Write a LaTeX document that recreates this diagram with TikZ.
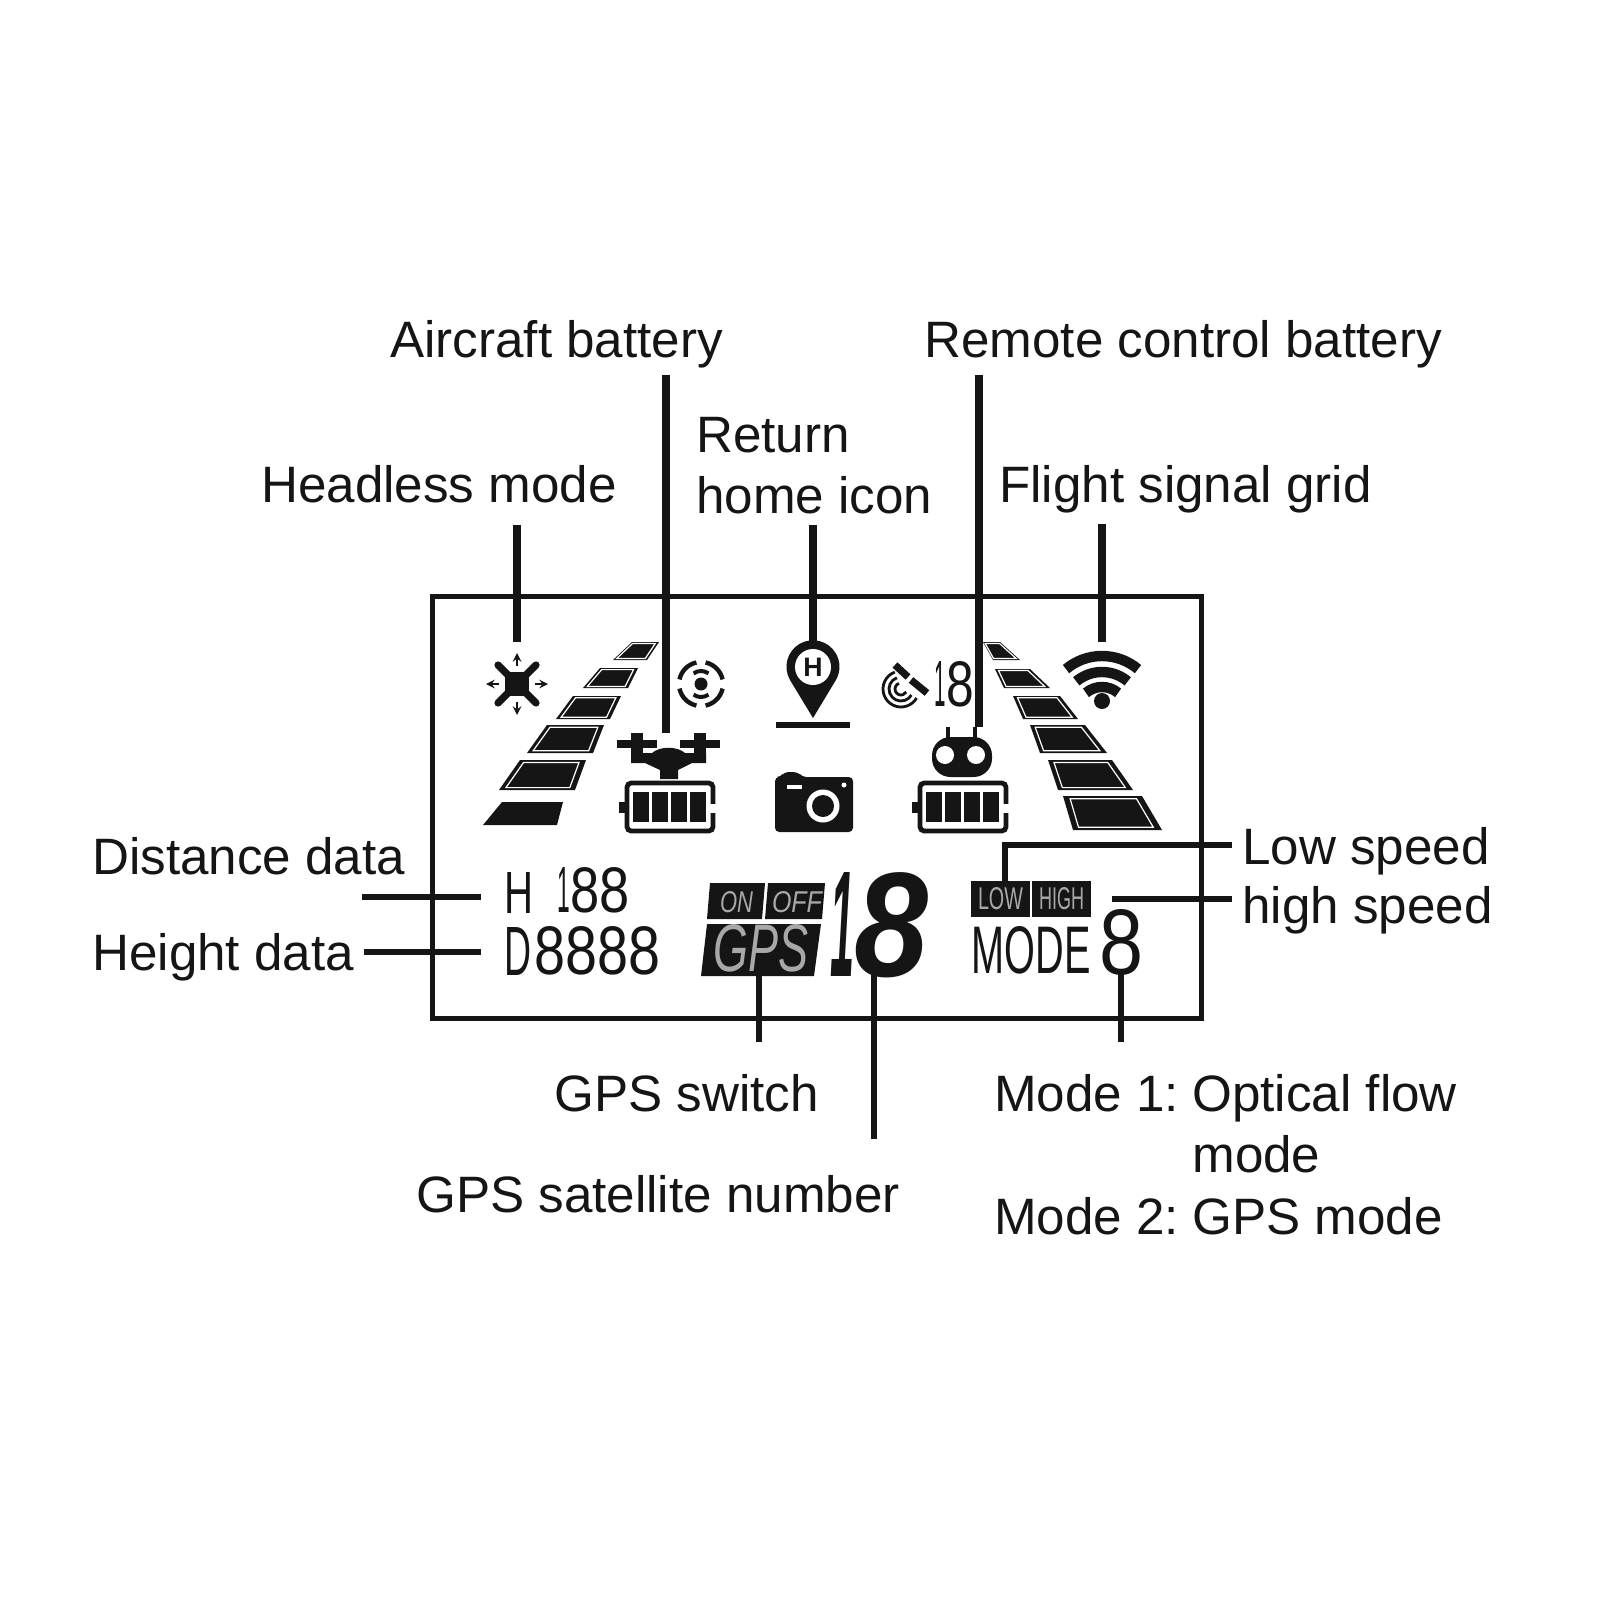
\documentclass[tikz,border=0pt]{standalone}
\usepackage{graphicx}
\usepackage{fontspec}
\setmainfont{Liberation Sans}
\usepackage{tikz}
\usetikzlibrary{calc}
\definecolor{ink}    {HTML}{151515}
\definecolor{lcdgrey}{HTML}{A8A8A8}
\newlength{\lcdunit}
\setlength{\lcdunit}{.25mm}
% one glyph of a readout: width, height, glyph
\newcommand{\lcdglyph}[3]{\resizebox{#1\lcdunit}{#2\lcdunit}{#3}}
% text squeezed into a box of the display: name, centre x, centre y, width, height, text
\newcommand{\lcdtext}[7][]{%
  \node[lcd,#1] (#2) at (#3,-#4) {\resizebox{#5\lcdunit}{#6\lcdunit}{#7}};}
\tikzset{
  % --- nodes
  lbl/.style    = {anchor=base west, inner sep=0pt, text=ink, align=left,
                   font=\fontsize{36.4}{43.4}\selectfont},
  lcd/.style    = {inner sep=0pt, text=ink},
  lcdinv/.style = {lcd, text=lcdgrey},
  % --- edges
  leader/.style = {draw=ink, line width=1.9mm, line cap=butt},
  thinl/.style  = {draw=ink, line width=1.3mm, line cap=butt, line join=miter},
  % --- icons
  glyph/.style  = {fill=ink, draw=none},
  cut/.style    = {draw=white, line width=.3mm},
}
\begin{document}
\begin{tikzpicture}[x=.25mm,y=.25mm]
  \useasboundingbox (0,0) rectangle (1601,-1601);
  % display frame
  \draw[draw=ink, line width=1.25mm] (432,-596) rectangle (1201,-1018);

  % labels
  \node[lbl] (lblair)   at (390,-357)  {Aircraft battery};
  \node[lbl] (lblrc)    at (924,-357)  {Remote control battery};
  \node[lbl] (lblreturn)at (696,-452)  {Return};
  \node[lbl] (lblhome)  at (696,-513)  {home icon};
  \node[lbl] (lblhead)  at (261,-502)  {Headless mode};
  \node[lbl] (lblgrid)  at (999,-502)  {Flight signal grid};
  \node[lbl] (lbldist)  at (92,-874)   {Distance data};
  \node[lbl] (lblheight)at (92,-970)   {Height data};
  \node[lbl] (lbllow)   at (1242,-864) {Low speed};
  \node[lbl] (lblhigh)  at (1242,-923) {high speed};
  \node[lbl] (lblswitch)at (554,-1111) {GPS switch};
  \node[lbl] (lblsat)   at (416,-1212) {GPS satellite number};
  \node[lbl] (lblmodea) at (994,-1111) {Mode 1:\hspace{9.4pt}Optical flow};
  \node[lbl] (lblmodeb) at (994,-1172) {\phantom{Mode 1:\hspace{9.4pt}}mode};
  \node[lbl] (lblmodec) at (994,-1234) {Mode 2:\hspace{9.4pt}GPS mode};

  % free ends of the leaders
  \coordinate (headend)  at (517,-642);
  \coordinate (airend)   at (666,-733);
  \coordinate (homeend)  at (813,-642);
  \coordinate (rcend)    at (979,-727);
  \coordinate (gridend)  at (1102,-642);
  \coordinate (diststart)at (362,-897);
  \coordinate (distend)  at (481,-897);
  \coordinate (heightend)at (481,-952);
  \coordinate (lowelbow) at (1005,-845);
  \coordinate (lowend)   at (1005,-881);
  \coordinate (highend)  at (1112,-899);
  \coordinate (switchend)at (759,-975);
  \coordinate (satend)   at (874,-975);
  \coordinate (modeend)  at (1121,-973);

  % headless mode
  \draw[ink, line width=1.8mm, line cap=round] (498,-665) -- (536,-703) (536,-665) -- (498,-703);
  \fill[glyph] (505,-672) rectangle (529,-696);
  \foreach \ax/\ay/\dx/\dy in {517/-660/0/1, 517/-708/0/-1, 493/-684/-1/0, 541/-684/1/0}
  {
    \draw[ink, line width=.6mm, -stealth] (\ax-\dx*6,\ay-\dy*6) -- (\ax+\dx*7,\ay+\dy*7);
  }

  % speed bars
  \fill[glyph] (483,-825) -- (557,-825) -- (563,-802) -- (502,-802) -- cycle;
  \foreach \ax/\ay/\bx/\by/\cx/\cy/\dx/\dy in {
    499/790/575/790/586/760/520/760,
    527/753/593/753/604/725/547/725,
    556/719/610/719/621/696/573/696,
    583/688/628/688/638/668/600/668,
    613/660/647/660/659/642/632/642,
    993/660/1020/660/1000/642/983/642,
    1004/688/1050/688/1030/669/995/669,
    1023/719/1078/719/1060/696/1013/696,
    1040/753/1107/753/1085/725/1030/725,
    1058/790/1133/790/1112/760/1048/760,
    1073/830/1162/830/1142/796/1063/796}
  {
    \fill[glyph] (\ax,-\ay) -- (\bx,-\by) -- (\cx,-\cy) -- (\dx,-\dy) -- cycle;
    \coordinate (mid) at ($(\ax,-\ay)!.5!(\cx,-\cy)$);
    \draw[cut] ($(mid)!.84!(\ax,-\ay)$) -- ($(mid)!.84!(\bx,-\by)$)
      -- ($(mid)!.84!(\cx,-\cy)$) -- ($(mid)!.84!(\dx,-\dy)$) -- cycle;
  }

  % gimbal ring
  \foreach \a in {45,135,225,315}
  {
    \draw[ink, line width=1.1mm] (701,-684) ++(\a-33:22) arc[start angle=\a-33, end angle=\a+33, radius=22];
  }
  \draw[ink, line width=1mm] (701,-684) ++(55:13) arc[start angle=55, end angle=125, radius=13];
  \draw[ink, line width=1mm] (701,-684) ++(235:13) arc[start angle=235, end angle=305, radius=13];
  \fill[glyph] (701,-684) circle (6.5);

  % aircraft
  \draw[ink, line width=2mm] (617,-744) -- (657,-744) (680,-744) -- (720,-744);
  \draw[ink, line width=3mm] (637,-733) -- (637,-763) (700,-733) -- (700,-763);
  \fill[glyph] (631,-753) -- (652,-753) .. controls (660,-746) and (677,-746) .. (685,-753)
    -- (706,-753) -- (706,-763) -- (692,-763) -- (678,-770) -- (678,-779) -- (660,-779)
    -- (660,-770) -- (645,-763) -- (631,-763) -- cycle;

  % batteries
  \foreach \off in {0,293}
  {
    \draw[ink, line width=1.2mm, rounded corners=3] (627+\off,-783) rectangle (713+\off,-831);
    \fill[glyph] (619+\off,-802) rectangle (627+\off,-813);
    \fill[white] (708+\off,-804) rectangle (716+\off,-813);
    \foreach \c in {0,1,2,3}
    {
      \fill[glyph] ({633+\off+\c*19},-792) rectangle ++(15.5,-30);
    }
  }

  % return home
  \fill[glyph] (813,-718) -- (790,-680) arc[start angle=210, end angle=-30, radius=26.5] -- cycle;
  \fill[white] (813,-667) circle (18);
  \node[lcd, font=\fontsize{19}{19}\selectfont\bfseries] (homeh) at (813,-667) {H};
  \draw[thinl] (776,-725) -- (850,-725);

  % camera
  \fill[glyph, rounded corners=3] (775,-832) -- (775,-777) -- (781,-777) -- (784,-772)
    -- (798,-772) -- (802,-777) -- (853,-777) -- (853,-832) -- cycle;
  \fill[white] (787,-785) rectangle (802,-789);
  \fill[white] (844,-785) circle (2.5);
  \fill[white] (823,-806) circle (16.5);
  \fill[glyph] (823,-806) circle (11);

  % satellite
  \draw[ink, line width=1.8mm] (895,-665) -- (908,-677) (911,-680) -- (927,-693);
  \foreach \r in {6,12,18}
  {
    \draw[ink, line width=.7mm] (901,-689) ++(110:\r) arc[start angle=110, end angle=330, radius=\r];
  }

  % remote control
  \fill[glyph, rounded corners=4.6mm] (932,-737) rectangle (992,-777);
  \draw[ink, line width=1.2mm] (948,-727) -- (948,-740) (975,-727) -- (975,-740);
  \fill[white] (945,-755) circle (9);
  \fill[white] (976,-755) circle (9);

  % signal
  \foreach \r in {25,40,56}
  {
    \draw[ink, line width=2.6mm] (1102,-712) ++(50:\r) arc[start angle=50, end angle=130, radius=\r];
  }
  \fill[glyph] (1102,-701) circle (8);

  % readouts
  \lcdtext{satcount}{954}{684.5}{40}{45}{\lcdglyph{12}{45}{1}\hspace{1\lcdunit}\lcdglyph{29}{45}{8}}
  \lcdtext{disth}{518.5}{892.5}{29}{41}{H}
  \lcdtext{dista}{593.5}{890.5}{72}{45}{\lcdglyph{13}{45}{1}\lcdglyph{30}{45}{8}\lcdglyph{31}{45}{8}}
  \lcdtext{heightd}{517.5}{951}{27}{48}{D}
  \lcdtext{heighta}{597.5}{951}{126}{48}{\lcdglyph{31}{48}{8}\lcdglyph{32}{48}{8}\lcdglyph{31}{48}{8}\lcdglyph{32}{48}{8}}
  % gps block
  \fill[glyph] (707,-919) -- (710,-883) -- (765,-883) -- (762,-919) -- cycle;
  \fill[glyph] (765,-919) -- (768,-883) -- (825,-883) -- (822,-919) -- cycle;
  \fill[glyph] (701,-976) -- (707,-924) -- (821,-924) -- (814,-976) -- cycle;
  \lcdtext[lcdinv]{gpson}{736.5}{902.5}{33}{21}{\itshape ON}
  \lcdtext[lcdinv]{gpsoff}{797}{902.5}{50}{21}{\itshape OFF}
  \lcdtext[lcdinv]{gpstxt}{760.5}{948.5}{95}{47}{\itshape GPS}
  \lcdtext{gpsnum}{879.5}{925}{98}{104}{\bfseries\itshape\lcdglyph{24}{104}{1}\lcdglyph{74}{104}{8}}
  % speed and mode block
  \fill[glyph] (971,-881) rectangle (1030,-917);
  \fill[glyph] (1032,-881) rectangle (1091,-917);
  \lcdtext[lcdinv]{spdlow}{1000.5}{899}{45}{22}{LOW}
  \lcdtext[lcdinv]{spdhigh}{1061.5}{899}{45}{22}{HIGH}
  \lcdtext{modetxt}{1031}{950.5}{119}{47}{MODE}
  \lcdtext{modenum}{1121}{942.5}{44}{65}{8}

  % leaders
  \draw[leader] (lblhead.south -| headend) ++(0,-22) -- (headend);
  \draw[leader] (lblair.south -| airend) ++(0,-7) -- (airend);
  \draw[leader] (lblhome.south -| homeend) ++(0,-11) -- (homeend);
  \draw[leader] (lblrc.south -| rcend) ++(0,-7) -- (rcend);
  \draw[leader] (lblgrid.south -| gridend) ++(0,-11) -- (gridend);
  \draw[thinl] (diststart) -- (distend);
  \draw[thinl] (lblheight.east |- heightend) ++(10,0) -- (heightend);
  \draw[thinl] (lbllow.west |- lowelbow) ++(-10,0) -- (lowelbow) -- (lowend);
  \draw[thinl] (lblhigh.west |- highend) ++(-10,0) -- (highend);
  \draw[thinl] (lblswitch.north -| switchend) ++(0,32) -- (switchend);
  \draw[thinl] (lblsat.north -| satend) ++(0,36) -- (satend);
  \draw[thinl] (lblmodea.north -| modeend) ++(0,32) -- (modeend);
\end{tikzpicture}
\end{document}
